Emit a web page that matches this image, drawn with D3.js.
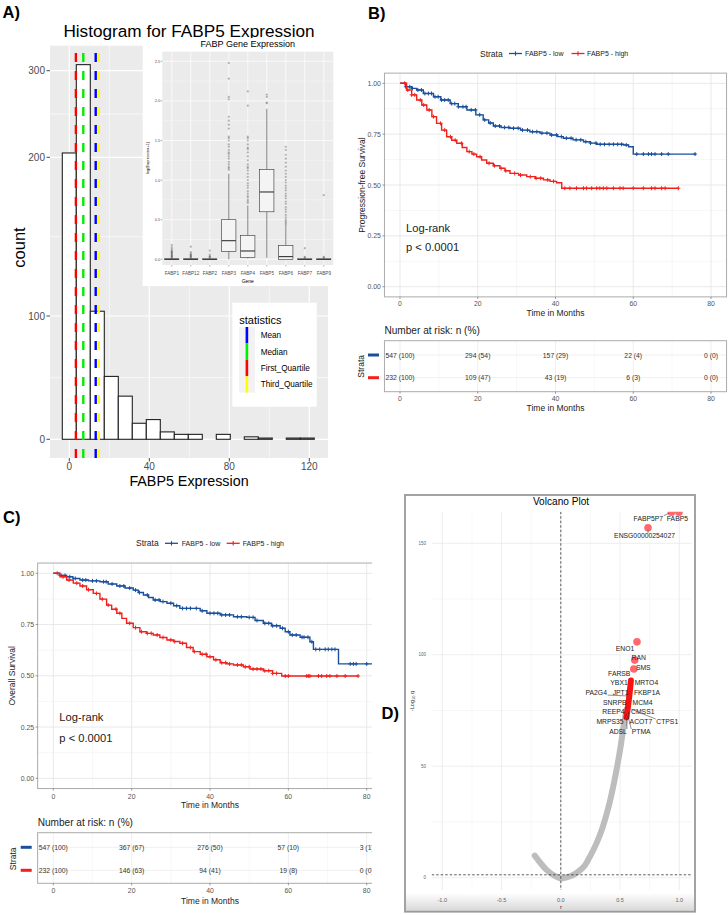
<!DOCTYPE html>
<html><head><meta charset="utf-8">
<script src="https://cdn.jsdelivr.net/npm/d3@7"></script>
<style>body{margin:0;background:#fff;}</style>
</head><body>
<svg id="fig" width="728" height="915"></svg>
<script>
// ================= DATA =================
// Panel A: histogram of FABP5 expression
const histBinCenters = [0,7,14,21,28,35,42,49,56,63,70,77,84,91,98,105,112,119];
const histCounts     = [205,307,103,51,35,13,16,6,4,4,0,4,0,2,1,0,1,1];
const histBinWidth = 7;
const histXTicks = [0,40,80,120];
const histYTicks = [0,100,200,300];
const statNames  = ["Mean","Median","First_Quartile","Third_Quartile"];
const statValues = [13.2, 7.0, 3.3, 14.7];
const statColors = ["#0000FF","#00EE00","#FF0000","#FFFF00"];

// Panel A inset: FABP gene expression boxplots (log(Expression+1))
const fabpGenes = ["FABP1","FABP12","FABP2","FABP3","FABP4","FABP5","FABP6","FABP7","FABP9"];
const boxQ1  = [0,0,0,0.10,0.025,0.60,0.0,0,0];
const boxMed = [0,0,0,0.235,0.105,0.85,0.034,0,0];
const boxQ3  = [0.006,0.006,0.005,0.50,0.30,1.134,0.176,0.005,0.005];
const whiskLo= [0,0,0,0,0.01,0.02,0,0,0];
const whiskHi= [0.012,0.012,0.01,1.08,0.68,1.90,0.43,0.01,0.01];
const boxOutliers = [
  [0.02,0.03,0.04,0.05,0.06,0.07,0.08,0.09,0.10,0.11,0.13,0.15,0.18],
  [0.02,0.03,0.04,0.05,0.06,0.07,0.09,0.16],
  [0.02,0.03,0.04,0.06,0.11],
  [1.13,1.15,1.17,1.20,1.23,1.27,1.30,1.33,1.35,1.38,1.42,1.45,1.50,1.53,1.55,1.65,1.70,1.75,1.80,2.02,2.05,2.28,2.48],
  [0.71,0.73,0.75,0.78,0.80,0.83,0.86,0.90,0.93,0.96,1.00,1.04,1.08,1.12,1.15,1.17,1.20,1.25,1.30,1.35,1.39,1.41,1.45,1.50,1.53,1.55,1.94,2.12],
  [1.97,1.98,2.05,2.08],
  [0.44,0.46,0.48,0.50,0.53,0.56,0.60,0.63,0.66,0.70,0.73,0.77,0.80,0.83,0.87,0.90,0.93,0.97,1.00,1.04,1.08,1.12,1.17,1.22,1.27,1.32,1.38,1.42],
  [0.02,0.03,0.14],
  [0.02,0.03,0.81]
];
const insetYTicks = [0,0.5,1.0,1.5,2.0,2.5];

// Panel B: progression-free survival (Kaplan-Meier)
const bLowTime  = [0,1.5,3,4.3,6,8.6,10.5,12.9,15,17.2,19.5,21.4,22.8,24,26,28.3,31,33.4,36,38.6,40.5,42,44.5,47.2,49,50.6,57.5,58.8,60];
const bLowSurv  = [1,.983,.975,.967,.95,.934,.918,.90,.885,.869,.845,.82,.805,.79,.783,.779,.77,.762,.755,.746,.738,.73,.722,.713,.706,.70,.697,.688,.652];
const bLowEnd = 76.1;
const bLowCensor = [1.5,2.5,3.2,4.6,5.5,6.4,7.3,8.1,9.0,9.8,10.7,11.5,12.4,13.3,14.1,15.0,16.2,17.0,18.3,19.4,20.5,21.8,23.2,24.5,25.6,26.9,28.0,29.2,30.4,31.5,32.8,34.1,35.2,36.5,37.8,39.0,40.3,41.5,42.8,44.0,45.3,46.5,47.8,49.0,50.4,51.5,52.6,53.8,54.9,56.0,57.0,58.2,60.9,62.6,63.9,64.7,65.6,67.3,69.0,75.9];
const bHighTime = [0,1.7,3,4.3,5.6,6.9,8.2,9.4,10.7,12,13.3,14.6,16,17.2,18.5,19.7,21,22.3,24,25.7,27,28.3,30.5,32.6,34.8,36.9,38.6,40.3,41.6];
const bHighSurv = [1,.967,.943,.918,.893,.869,.836,.803,.77,.737,.72,.705,.684,.664,.652,.639,.623,.607,.595,.582,.57,.557,.549,.541,.533,.525,.518,.511,.484];
const bHighEnd = 71.6;
const bHighCensor = [1.2,2.0,3.0,3.8,5.2,6.1,7.5,8.6,10.4,11.5,13.0,14.2,15.8,17.8,19.0,20.6,22.9,24.3,26.0,27.2,29.5,31.0,33.5,35.0,36.2,38.0,39.5,42.4,43.7,45.4,47.2,48.0,49.3,50.6,51.4,52.3,53.2,54.9,56.6,57.4,60.0,62.6,64.7,65.6,67.3,68.2,71.6];
const bRiskLow  = ["547 (100)","294 (54)","157 (29)","22 (4)","0 (0)"];
const bRiskHigh = ["232 (100)","109 (47)","43 (19)","6 (3)","0 (0)"];

// Panel C: overall survival (Kaplan-Meier)
const cLowTime = [0,1.5,3.4,5,6.8,9,11.9,14,16.2,18.3,20.4,21.7,23,24.3,25.5,27.3,29,30.7,32.3,37.5,39.2,42.6,46,49.4,51.5,53.6,55.7,57.9,59.2,60.4,63,65.5,66.4,72.8];
const cLowSurv = [1,.99,.983,.975,.967,.963,.959,.948,.938,.928,.918,.906,.894,.882,.87,.862,.854,.842,.829,.817,.805,.797,.788,.785,.77,.756,.744,.732,.715,.699,.688,.666,.629,.558];
const cLowEnd = 84;
const cLowCensor = [2,3,4.2,5.6,7.5,8.3,10,11,12.8,13.5,15,17,18,19.5,21,22,24,26,27,28,30,31.5,33,34,35,36.5,38,40,41,42,43,44,45,47,48,50,51,52,54,55,56,57,58.5,60,61,62,63.5,64,65,66,67,68,69.4,70.2,71.1,71.9,75.8,76.6,77.3,80,82];
const cHighTime = [0,1.7,3.4,5.1,6.8,8.5,10.2,11.9,13.6,14.9,16.2,17.5,18.7,20.4,22.1,23.8,25.5,27.2,29,30.7,32.3,34,35.7,37.5,39.2,40.9,42.6,44.3,46,48.5,50.2,53.6,56,58.3];
const cHighSurv = [1,.983,.967,.952,.938,.92,.902,.874,.845,.825,.805,.78,.756,.735,.715,.707,.699,.687,.675,.667,.659,.638,.618,.605,.593,.578,.564,.558,.553,.544,.533,.525,.512,.499];
const cHighEnd = 77.8;
const cHighCensor = [1,2.5,4,6,7.5,9,11,12.5,14,16,17,19.5,21,22.5,24,25,26.5,28,30,31,33,35,36,38,39,40,41.5,43,44,45,47,48,49,50,51,52,53,54,55,56,57,59.2,60,64.7,65.1,65.5,67.7,68.5,69.8,70.6,72.4,74.5,77.8];
const cRiskLow  = ["547 (100)","367 (67)","276 (50)","57 (10)","3 (1)"];
const cRiskHigh = ["232 (100)","146 (63)","94 (41)","19 (8)","0 (0)"];

const kmTimeTicks = [0,20,40,60,80];
const kmSurvTicks = [0,0.25,0.5,0.75,1.0];
const strataLabels = ["FABP5 - low","FABP5 - high"];

// Panel D: volcano plot
const volcanoR = [-0.22,-0.17,-0.12,-0.06,0,0.05,0.1,0.15,0.2,0.25,0.3,0.35,0.4,0.45,0.5,0.53,0.555];
const volcanoQ = [9.9,6.5,3.5,1.1,-0.3,0.2,1.1,2.8,5.3,9.9,15.3,22.1,31.1,42.9,57.3,67.8,75.5];
const sigR = [0.553,0.562,0.57,0.578,0.585,0.592];
const sigQ = [72,75,78,81.5,85,88.5];
const geneNames = ["FABP5","FABP5P7","ENSG00000254027","ENO1","RAN","SMS","FARSB","MRTO4","YBX1","FKBP1A","JPT1","PA2G4","MCM4","SNRPB","CMSS1","REEP4","CTPS1","ACOT7","MRPS35","PTMA","ADSL"];
const geneR = [0.997,0.933,0.736,0.643,0.624,0.616,0.593,0.59,0.585,0.587,0.583,0.58,0.582,0.578,0.576,0.572,0.575,0.57,0.565,0.562,0.558];
const geneQ = [163.9,163.9,157,105.8,97.6,93.6,89,88,86.5,84,83,81.5,79.5,80,77,77.5,76,75.5,74.5,73.5,72.8];
const geneBig = [1,1,1,1,1,1,0,0,0,0,0,0,0,0,0,0,0,0,0,0,0];
// label placement (pixel nudges from the point, like ggrepel output)
const labelNudgeX = [-1.5,-23,-3.5,-12,4,9.5,-11.8,15.7,-11.1,16.6,-9.3,-33.3,12.8,-14.5,13.7,-15.1,38.3,12.6,-17.7,13.8,-8.9];
const labelNudgeY = [6.5,5.8,8.1,6.2,-2.7,-1.3,-6.2,1.0,-2.3,2.1,0,-3.4,2.1,3.2,5.8,6.9,13.3,12.2,9.9,17.7,16.1];
const volcanoXTicks = [-1.0,-0.5,0.0,0.5,1.0];
const volcanoYTicks = [0,50,100,150];

// ================= DRAWING =================
const FONT = '"Liberation Sans", Arial, Helvetica, sans-serif';
const svg = d3.select("#fig");
svg.append("rect").attr("width",728).attr("height",915).attr("fill","#fff");

function txt(g, x, y, s, size, o={}) {
  const t = g.append("text").attr("x",x).attr("y",y).text(s)
    .attr("font-size",size).attr("font-family",FONT).attr("fill",o.fill||"#000");
  if (o.anchor) t.attr("text-anchor",o.anchor);
  if (o.weight) t.attr("font-weight",o.weight);
  if (o.mid) t.attr("dominant-baseline","central");
  if (o.rot) t.attr("transform",`rotate(-90,${x},${y})`);
  return t;
}
function hline(g,x0,x1,y,c,w){return g.append("line").attr("x1",x0).attr("x2",x1).attr("y1",y).attr("y2",y).attr("stroke",c).attr("stroke-width",w);}
function vline(g,x,y0,y1,c,w){return g.append("line").attr("x1",x).attr("x2",x).attr("y1",y0).attr("y2",y1).attr("stroke",c).attr("stroke-width",w);}

// ---------- Panel A ----------
(function(){
  const g = svg.append("g");
  txt(g, 2.5, 17.5, "A)", 16.5, {weight:"bold"});
  txt(g, 189, 36.5, "Histogram for FABP5 Expression", 17.2, {anchor:"middle"});
  const P = {x0:50, x1:328, y0:45.7, y1:458};
  const x = d3.scaleLinear().domain([0,120]).range([69.3,309.3]);
  const y = d3.scaleLinear().domain([0,100,200,300]).range([439.3,316,157.3,70.7]);
  g.append("rect").attr("x",P.x0).attr("y",P.y0).attr("width",P.x1-P.x0).attr("height",P.y1-P.y0).attr("fill","#EBEBEB");
  [20,60,100].forEach(v=>vline(g,x(v),P.y0,P.y1,"#fff",0.6));
  [50,150,250].forEach(v=>hline(g,P.x0,P.x1,y(v),"#fff",0.6));
  histXTicks.forEach(v=>vline(g,x(v),P.y0,P.y1,"#fff",1.2));
  histYTicks.forEach(v=>hline(g,P.x0,P.x1,y(v),"#fff",1.2));
  g.selectAll(".bar").data(histBinCenters).enter().append("rect")
    .attr("x",(d)=>x(d-histBinWidth/2)).attr("width",x(histBinWidth)-x(0))
    .attr("y",(d,i)=>y(histCounts[i])).attr("height",(d,i)=>y(0)-y(histCounts[i]))
    .attr("fill","#fff").attr("stroke","#222").attr("stroke-width",1.1);
  const order = [2,1,0,3];
  order.forEach(i=>{
    vline(g,x(statValues[i]),P.y1,P.y0,statColors[i],2.4).attr("stroke-dasharray","9,9");
  });
  histYTicks.forEach(v=>{ hline(g,46.5,P.x0,y(v),"#333",0.9); txt(g,45,y(v),String(v),10,{anchor:"end",mid:true,fill:"#4D4D4D"}); });
  histXTicks.forEach(v=>{ vline(g,x(v),P.y1,P.y1+3.5,"#333",0.9); txt(g,x(v),469.5,String(v),10,{anchor:"middle",fill:"#4D4D4D"}); });
  txt(g,25,247.5,"count",16.5,{anchor:"middle",rot:true});
  txt(g,189,485.5,"FABP5 Expression",14.3,{anchor:"middle"});
  g.append("rect").attr("x",232.3).attr("y",302.7).attr("width",84.4).attr("height",104).attr("fill","#fff");
  txt(g,239.3,323.5,"statistics",11,{});
  g.append("rect").attr("x",239).attr("y",327).attr("width",16).attr("height",65.6).attr("fill","#F2F2F2");
  statNames.forEach((n,i)=>{
    const yy = 327 + i*16.4;
    vline(g,246.9,yy,yy+16.4,statColors[i],2.6);
    txt(g,260.7,yy+8.6,n,8.2,{mid:true});
  });
  // ---- inset ----
  const ig = svg.append("g");
  ig.append("rect").attr("x",142.7).attr("y",38).attr("width",203).attr("height",248).attr("fill","#fff");
  txt(ig,247.8,47.3,"FABP Gene Expression",9,{anchor:"middle"});
  const I = {x0:162.3,x1:333.3,y0:51.7,y1:265};
  const ix = d3.scaleBand().domain(fabpGenes).range([I.x0,I.x1]);
  const iy = d3.scaleLinear().domain([0,2.5]).range([259.3,61.3]);
  ig.append("rect").attr("x",I.x0).attr("y",I.y0).attr("width",I.x1-I.x0).attr("height",I.y1-I.y0).attr("fill","#EBEBEB");
  [0.25,0.75,1.25,1.75,2.25].forEach(v=>hline(ig,I.x0,I.x1,iy(v),"#fff",0.35));
  insetYTicks.forEach(v=>hline(ig,I.x0,I.x1,iy(v),"#fff",0.7));
  fabpGenes.forEach(gn=>vline(ig,ix(gn)+ix.bandwidth()/2,I.y0,I.y1,"#fff",0.7));
  const bw = ix.bandwidth()*0.75;
  fabpGenes.forEach((gn,i)=>{
    const cx = ix(gn)+ix.bandwidth()/2;
    vline(ig,cx,iy(boxQ3[i]),iy(whiskHi[i]),"#333",0.6);
    vline(ig,cx,iy(boxQ1[i]),iy(whiskLo[i]),"#333",0.6);
    ig.append("rect").attr("x",cx-bw/2).attr("width",bw).attr("y",iy(boxQ3[i]))
      .attr("height",Math.max(0.3,iy(boxQ1[i])-iy(boxQ3[i]))).attr("fill","#F4F4F4").attr("stroke","#333").attr("stroke-width",0.6);
    hline(ig,cx-bw/2,cx+bw/2,iy(boxMed[i]),"#333",1.1);
    boxOutliers[i].forEach(v=>ig.append("circle").attr("cx",cx).attr("cy",iy(v)).attr("r",1.1).attr("fill","#333").attr("fill-opacity",0.35));
  });
  insetYTicks.forEach(v=>{ hline(ig,160.7,I.x0,iy(v),"#333",0.4); txt(ig,160.2,iy(v),v.toFixed(1),4,{anchor:"end",mid:true,fill:"#4D4D4D"}); });
  fabpGenes.forEach(gn=>{ const cx=ix(gn)+ix.bandwidth()/2; vline(ig,cx,I.y1,I.y1+1.5,"#333",0.4); txt(ig,cx,273.3,gn,4.6,{anchor:"middle",mid:true,fill:"#4D4D4D"}); });
  txt(ig,247.8,281,"Gene",5,{anchor:"middle",mid:true});
  txt(ig,147,158,"log(Expression+1)",4,{anchor:"middle",mid:true,rot:true});
})();

// ---------- KM panels (B, C) ----------
function kmPanel(c){
  const g = svg.append("g");
  if (c.clip){
    const id = "clip"+c.id;
    svg.append("clipPath").attr("id",id).append("rect").attr("x",c.clip[0]).attr("y",c.clip[1]).attr("width",c.clip[2]).attr("height",c.clip[3]);
    g.attr("clip-path",`url(#${id})`);
  }
  txt(g,c.tag[0],c.tag[1],c.id+")",16.5,{weight:"bold"});
  const x = d3.scaleLinear().domain([0,80]).range(c.xr);
  const y = d3.scaleLinear().domain([0,1]).range(c.yr);
  const px0 = x(-4), px1 = x(84), py0 = y(1.05), py1 = y(-0.05);
  const blue = "#1A4F9C", red = "#F2201C";
  const L = c.legend;
  txt(g,L.strata,L.y,"Strata",8.5,{mid:true,fill:"#222"});
  [[L.k1,blue,L.t1,strataLabels[0]],[L.k2,red,L.t2,strataLabels[1]]].forEach(([k,col,tx,lab])=>{
    hline(g,k,k+13,L.y,col,1.3);
    vline(g,k+6.5,L.y-2.2,L.y+2.2,col,1.1);
    txt(g,tx,L.y,lab,7,{mid:true,fill:"#222"});
  });
  g.append("rect").attr("x",px0).attr("y",py0).attr("width",px1-px0).attr("height",py1-py0).attr("fill","#fff");
  [10,30,50,70].forEach(v=>vline(g,x(v),py0,py1,"#F0F0F0",0.6));
  [0.125,0.375,0.625,0.875].forEach(v=>hline(g,px0,px1,y(v),"#F0F0F0",0.6));
  kmTimeTicks.forEach(v=>vline(g,x(v),py0,py1,"#E6E6E6",0.9));
  kmSurvTicks.forEach(v=>hline(g,px0,px1,y(v),"#E6E6E6",0.9));
  const line = d3.line().x(d=>x(d[0])).y(d=>y(d[1])).curve(d3.curveStepAfter);
  function surv(T,S,t){let s=1;for(let i=0;i<T.length;i++){if(T[i]<=t)s=S[i];}return s;}
  [[c.lowT,c.lowS,c.lowEnd,c.lowC,blue],[c.highT,c.highS,c.highEnd,c.highC,red]].forEach(([T,S,E,C,col])=>{
    const pts = T.map((t,i)=>[t,S[i]]); pts.push([E,S[S.length-1]]);
    g.append("path").attr("d",line(pts)).attr("fill","none").attr("stroke",col).attr("stroke-width",1.4);
    C.forEach(t=>{
      const xx=x(t), yy=y(surv(T,S,t));
      hline(g,xx-2,xx+2,yy,col,1); vline(g,xx,yy-2,yy+2,col,1);
    });
  });
  g.append("rect").attr("x",px0).attr("y",py0).attr("width",px1-px0).attr("height",py1-py0).attr("fill","none").attr("stroke","#ABABAB").attr("stroke-width",1);
  kmSurvTicks.forEach(v=>{ hline(g,px0-2,px0,y(v),"#555",0.6); txt(g,px0-3.5,y(v),v.toFixed(2),6.9,{anchor:"end",mid:true,fill:"#555"}); });
  kmTimeTicks.forEach(v=>{ vline(g,x(v),py1,py1+2,"#555",0.6); txt(g,x(v),c.tickY,String(v),6.9,{anchor:"middle",mid:true,fill:"#555"}); });
  txt(g,(px0+px1)/2,c.xTitleY,"Time in Months",8.5,{anchor:"middle",mid:true,fill:"#222"});
  txt(g,c.yTitleX,(py0+py1)/2,c.yTitle,8.5,{anchor:"middle",mid:true,rot:true,fill:"#222"});
  txt(g,c.lr[0],c.lr[1],"Log-rank",11.2,{mid:true,fill:"#222"});
  txt(g,c.lr[0],c.lr[2],"p < 0.0001",11.2,{mid:true,fill:"#222"});
  const R = c.risk;
  txt(g,px0,R.title,"Number at risk: n (%)",10.1,{mid:true,fill:"#222"});
  g.append("rect").attr("x",px0).attr("y",R.y0).attr("width",px1-px0).attr("height",R.y1-R.y0).attr("fill","#fff");
  kmTimeTicks.forEach(v=>vline(g,x(v),R.y0,R.y1,"#EDEDED",0.9));
  [10,30,50,70].forEach(v=>vline(g,x(v),R.y0,R.y1,"#F3F3F3",0.6));
  hline(g,px0,px1,R.rows[0],"#EDEDED",0.9); hline(g,px0,px1,R.rows[1],"#EDEDED",0.9);
  g.append("rect").attr("x",px0).attr("y",R.y0).attr("width",px1-px0).attr("height",R.y1-R.y0).attr("fill","none").attr("stroke","#ABABAB").attr("stroke-width",1);
  [[c.riskLow,R.rows[0],blue],[c.riskHigh,R.rows[1],red]].forEach(([vals,ry,col])=>{
    vals.forEach((s,i)=>txt(g,x(kmTimeTicks[i]),ry,s,6.8,{anchor:"middle",mid:true,fill:"#333"}));
    hline(g,R.key[0],R.key[1],ry,col,3);
  });
  txt(g,R.strataX,(R.rows[0]+R.rows[1])/2,"Strata",8.5,{anchor:"middle",mid:true,rot:true,fill:"#222"});
  kmTimeTicks.forEach(v=>{ vline(g,x(v),R.y1,R.y1+2,"#555",0.6); txt(g,x(v),R.tickY,String(v),6.9,{anchor:"middle",mid:true,fill:"#555"}); });
  txt(g,(px0+px1)/2,R.xTitleY,"Time in Months",8.5,{anchor:"middle",mid:true,fill:"#222"});
}

kmPanel({id:"B", tag:[368,18.5], xr:[400,711], yr:[286.7,83.3],
  legend:{y:53.5,strata:480,k1:509,t1:525,k2:571.5,t2:587},
  lowT:bLowTime,lowS:bLowSurv,lowEnd:bLowEnd,lowC:bLowCensor,
  highT:bHighTime,highS:bHighSurv,highEnd:bHighEnd,highC:bHighCensor,
  tickY:303.3,xTitleY:313.3,yTitleX:362,yTitle:"Progression-free Survival",lr:[406,228.3,246.7],
  riskLow:bRiskLow,riskHigh:bRiskHigh,
  risk:{title:330,y0:340.7,y1:391.7,rows:[355,377.7],key:[368,379],strataX:361.5,tickY:398.3,xTitleY:407.7}});

kmPanel({id:"C", tag:[3,523], xr:[53.3,366.7], yr:[778.3,573.3], clip:[0,490,372,425],
  legend:{y:543.3,strata:136,k1:165,t1:181.7,k2:226.7,t2:242.7},
  lowT:cLowTime,lowS:cLowSurv,lowEnd:cLowEnd,lowC:cLowCensor,
  highT:cHighTime,highS:cHighSurv,highEnd:cHighEnd,highC:cHighCensor,
  tickY:796,xTitleY:805,yTitleX:12,yTitle:"Overall Survival",lr:[59.3,717.3,738.3],
  riskLow:cRiskLow,riskHigh:cRiskHigh,
  risk:{title:822.7,y0:832.7,y1:883.3,rows:[847.3,870.3],key:[20.7,31.7],strataX:13.3,tickY:890.7,xTitleY:900.7}});

// ---------- Panel D ----------
(function(){
  const g = svg.append("g");
  const defs = svg.append("defs");
  const grad = defs.append("linearGradient").attr("id","dshade").attr("x1",0).attr("x2",0).attr("y1",0).attr("y2",1);
  grad.append("stop").attr("offset","0%").attr("stop-color","#fff");
  grad.append("stop").attr("offset","100%").attr("stop-color","#D6D6D6");
  const B = {x0:405,x1:695,y0:495,y1:911.7};
  g.append("rect").attr("x",B.x0).attr("y",B.y0).attr("width",B.x1-B.x0).attr("height",B.y1-B.y0).attr("fill","#fff");
  g.append("rect").attr("x",B.x0).attr("y",893).attr("width",B.x1-B.x0).attr("height",B.y1-893).attr("fill","url(#dshade)");
  const P = {x0:431.7,x1:691.7,y0:511.7,y1:890};
  const x = d3.scaleLinear().domain([-1,1]).range([442.3,679.3]);
  const y = d3.scaleLinear().domain([0,150]).range([877.7,543.3]);
  [-0.75,-0.25,0.25,0.75].forEach(v=>vline(g,x(v),P.y0,P.y1,"#F2F2F2",0.6));
  [25,75,125].forEach(v=>hline(g,P.x0,P.x1,y(v),"#F2F2F2",0.6));
  volcanoXTicks.forEach(v=>vline(g,x(v),P.y0,P.y1,"#EAEAEA",0.8));
  volcanoYTicks.forEach(v=>hline(g,P.x0,P.x1,y(v),"#EAEAEA",0.8));
  svg.append("clipPath").attr("id","clipD").append("rect").attr("x",P.x0).attr("y",P.y0).attr("width",P.x1-P.x0).attr("height",P.y1-P.y0);
  const pg = g.append("g").attr("clip-path","url(#clipD)");
  const ln = d3.line().x(d=>x(d[0])).y(d=>y(d[1])).curve(d3.curveCatmullRom);
  pg.append("path").attr("d",ln(volcanoR.map((r,i)=>[r,volcanoQ[i]]))).attr("fill","none").attr("stroke","#BDBDBD").attr("stroke-width",6).attr("stroke-linecap","round");
  pg.append("path").attr("d",ln(sigR.map((r,i)=>[r,sigQ[i]]))).attr("fill","none").attr("stroke","#FF1010").attr("stroke-width",6).attr("stroke-linecap","round");
  vline(pg,x(0),P.y0,P.y1,"#333",0.8).attr("stroke-dasharray","2.5,2");
  hline(pg,P.x0,P.x1,y(1.3),"#333",0.8).attr("stroke-dasharray","2.5,2");
  geneNames.forEach((n,i)=>{
    if(geneBig[i]) pg.append("circle").attr("cx",x(geneR[i])).attr("cy",y(geneQ[i])).attr("r",3.8).attr("fill","#FF4F55").attr("fill-opacity",0.85);
  });
  const lg = g.append("g");
  geneNames.forEach((n,i)=>{
    const px = x(geneR[i]), py = y(geneQ[i]);
    const lx = px+labelNudgeX[i], ly = py+labelNudgeY[i];
    const t = txt(lg,lx,ly,n,6.8,{anchor:"middle",mid:true,fill:"#222"});
    const bb = t.node().getBBox();
    const cx = Math.max(bb.x-0.5,Math.min(px,bb.x+bb.width+0.5));
    const cy = Math.max(bb.y+1,Math.min(py,bb.y+bb.height-1));
    const dist = Math.hypot(cx-px,cy-py);
    if (dist>4.5) {
      const f = (dist-2.5)/dist;
      lg.append("line").attr("x1",cx).attr("y1",cy).attr("x2",cx-(cx-px)*f).attr("y2",cy-(cy-py)*f).attr("stroke","#222").attr("stroke-width",0.5);
    }
  });
  txt(g,561,501.7,"Volcano Plot",10.1,{anchor:"middle",mid:true});
  volcanoXTicks.forEach(v=>txt(g,x(v),900,v.toFixed(1),5.6,{anchor:"middle",mid:true,fill:"#666"}));
  volcanoYTicks.forEach(v=>txt(g,426,y(v),String(v),4.5,{anchor:"end",mid:true,fill:"#666"}));
  txt(g,561,906.7,"r",6,{anchor:"middle",mid:true,fill:"#333"});
  const yl = g.append("text").attr("transform","translate(411.5,701) rotate(-90)").attr("text-anchor","middle").attr("dominant-baseline","central")
    .attr("font-family",FONT).attr("font-size",5.6).attr("fill","#333");
  yl.append("tspan").text("-Log");
  yl.append("tspan").text("10").attr("font-size",4).attr("dy",1.2);
  yl.append("tspan").text(" q").attr("dy",-1.2);
  g.append("rect").attr("x",B.x0).attr("y",B.y0).attr("width",B.x1-B.x0).attr("height",B.y1-B.y0).attr("fill","none").attr("stroke","#9A9A9A").attr("stroke-width",1.8);
  txt(g,399,719,"D)",16.5,{weight:"bold",anchor:"end"});
})();
</script></body></html>
